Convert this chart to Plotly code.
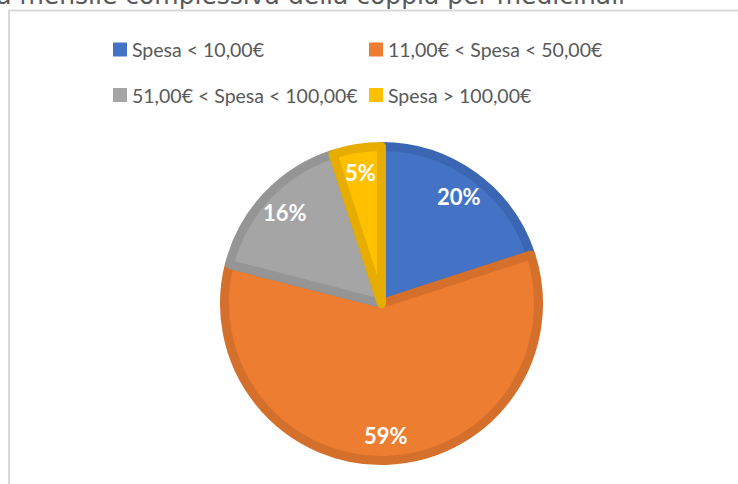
import math
import plotly.graph_objects as go

# ---- data ----
categories = ["Spesa < 10,00€", "11,00€ < Spesa < 50,00€",
              "51,00€ < Spesa < 100,00€", "Spesa > 100,00€"]
values = [20, 59, 16, 5]
title_text = "Spesa mensile complessiva della coppia per medicinali"

# ---- styles ----
fill_colors = ["#4472C4", "#ED7D31", "#A5A5A5", "#FFC000"]
edge_colors = ["#3B66B4", "#D5702C", "#959595", "#E6AD00"]
W, H = 738, 484
text_gray = "#595959"

cx, cy = 381.5, 303.5      # pie centre in pixels
R = 157.0                  # pie radius (stroke centre)
LW = 9

def px(x):
    return x / W

def py(y):
    return 1 - y / H

fig = go.Figure()
fig.add_trace(go.Pie(
    labels=categories,
    values=values,
    sort=False,
    direction="clockwise",
    rotation=0,
    marker=dict(colors=fill_colors, line=dict(color=edge_colors, width=LW)),
    textinfo="none",
    hoverinfo="label+percent",
    showlegend=False,
    domain=dict(x=[px(cx - R), px(cx + R)], y=[py(cy + R), py(cy - R)]),
    automargin=False,
))

annotations = []
shapes = []

# data labels placed on the bisector of each slice
total = sum(values)
cum = 0
for v in values:
    mid = (cum + v / 2) / total * 2 * math.pi
    cum += v
    r = 0.82 * (R + LW / 2)
    x = cx + r * math.sin(mid)
    y = cy - r * math.cos(mid)
    annotations.append(dict(
        x=px(x), y=py(y), xref="paper", yref="paper",
        text=f"<b>{round(v / total * 100)}%</b>", showarrow=False,
        font=dict(family="Lato", size=22, color="white"),
        xanchor="center", yanchor="middle"))

# legend (2x2 grid)
leg_pos = [(113, 49.5), (369, 49.5), (113, 95), (369, 95)]
sq = 14
for (lx, ly), lab, col in zip(leg_pos, categories, fill_colors):
    shapes.append(dict(type="rect", xref="paper", yref="paper",
                       x0=px(lx), x1=px(lx + sq), y0=py(ly + sq / 2), y1=py(ly - sq / 2),
                       fillcolor=col, line=dict(width=0)))
    annotations.append(dict(
        x=px(lx + sq + 3), y=py(ly), xref="paper", yref="paper",
        text=lab, showarrow=False, xanchor="left", yanchor="middle",
        font=dict(family="Lato", size=19.5, color=text_gray)))

# chart area border
shapes.append(dict(type="rect", xref="paper", yref="paper",
                   x0=px(9), x1=px(760), y0=py(510), y1=py(10.5),
                   line=dict(color="#D9D9D9", width=2), fillcolor="rgba(0,0,0,0)"))

# title (cropped at the top/left edge, as in the source image)
annotations.append(dict(
    x=px(627), y=py(-4.5), xref="paper", yref="paper",
    text=title_text, showarrow=False, xanchor="right", yanchor="middle",
    font=dict(family="DejaVu Sans", size=25, color=text_gray)))

fig.update_layout(
    width=W, height=H,
    margin=dict(l=0, r=0, t=0, b=0),
    paper_bgcolor="white", plot_bgcolor="white",
    annotations=annotations, shapes=shapes,
)

fig.write_html(
    "out.html",
    config={"displayModeBar": False},
    post_script="document.body.style.margin='0';document.body.style.overflow='hidden';",
)
